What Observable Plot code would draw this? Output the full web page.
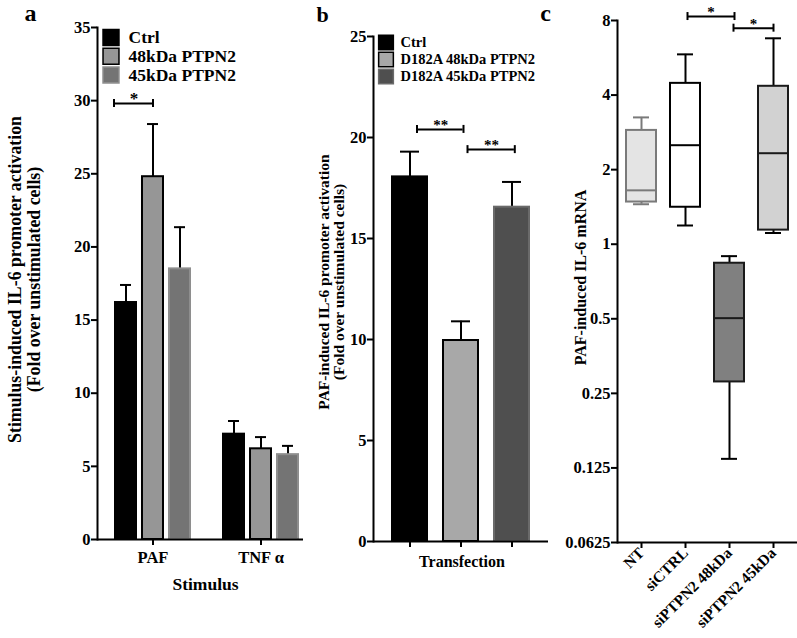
<!DOCTYPE html>
<html>
<head>
<meta charset="utf-8">
<script src="https://cdn.jsdelivr.net/npm/d3@7"></script>
<script src="https://cdn.jsdelivr.net/npm/@observablehq/plot@0.6"></script>
<style>
  html, body { margin: 0; padding: 0; background: #fff; }
  #fig { position: relative; width: 797px; height: 638px; overflow: hidden; background: #fff; }
  .panel { position: absolute; top: 0; height: 638px; }
  .panel svg { max-width: none; overflow: visible; }
</style>
</head>
<body>
<div id="fig"></div>
<script>
// ---------------- Panel a data ----------------
const stimuliA = ["PAF", "TNF α"];
const conditionsA = ["Ctrl", "48kDa PTPN2", "45kDa PTPN2"];
const pafMeansA = [16.2, 24.8, 18.5];
const pafErrA = [1.2, 3.6, 2.85];
const tnfMeansA = [7.2, 6.2, 5.8];
const tnfErrA = [0.9, 0.8, 0.6];
const yTicksA = [0, 5, 10, 15, 20, 25, 30, 35];
const sigA = [{from: "PAF|Ctrl", to: "PAF|48kDa PTPN2", y: 29.8, label: "*"}];

// ---------------- Panel b data ----------------
const conditionsB = ["Ctrl", "D182A 48kDa PTPN2", "D182A 45kDa PTPN2"];
const meansB = [18.05, 9.95, 16.55];
const errB = [1.25, 0.95, 1.25];
const yTicksB = [0, 5, 10, 15, 20, 25];
const sigB = [
  {from: "Ctrl", to: "D182A 48kDa PTPN2", y: 20.4, label: "**"},
  {from: "D182A 48kDa PTPN2", to: "D182A 45kDa PTPN2", y: 19.4, label: "**"}
];

// ---------------- Panel c data ----------------
const groupsC = ["NT", "siCTRL", "siPTPN2 48kDa", "siPTPN2 45kDa"];
const minC = [1.45, 1.19, 0.136, 1.11];
const q1C = [1.48, 1.41, 0.278, 1.14];
const medianC = [1.65, 2.51, 0.503, 2.33];
const q3C = [2.88, 4.46, 0.838, 4.34];
const maxC = [3.25, 5.84, 0.895, 6.78];
const yTicksC = [0.0625, 0.125, 0.25, 0.5, 1, 2, 4, 8];
const sigC = [
  {from: "siCTRL", to: "siPTPN2 48kDa", y: 8.3, label: "*"},
  {from: "siPTPN2 48kDa", to: "siPTPN2 45kDa", y: 7.45, label: "*"}
];

// ---------------- Styles ----------------
const fillA = ["#000000", "#969696", "#747474"];
const strokeA = ["#000000", "#000000", "#8e8e8e"];
const fillB = ["#000000", "#a8a8a8", "#4f4f4f"];
const strokeB = ["#000000", "#000000", "#6a6a6a"];
const fillC = ["#e4e4e4", "#ffffff", "#808080", "#d2d2d2"];
const strokeC = ["#7a7a7a", "#000000", "#1a1a1a", "#1a1a1a"];
const FONT = "'Liberation Serif', 'Times New Roman', serif";
const baseStyle = {fontFamily: FONT, fontWeight: "bold", fontSize: "16px", color: "black", background: "transparent", overflow: "visible"};

// ---------------- Helpers ----------------
function bracket(s, bw, o) {
  return [
    Plot.ruleY([s], {x1: "from", x2: "to", y: "y", strokeWidth: 2, insetLeft: bw / 2 + o.dx1, insetRight: bw / 2 - o.dx2}),
    Plot.ruleX([s], {x: "from", y1: "y", y2: "y", dx: o.dx1, insetTop: -4, insetBottom: -4, strokeWidth: 2}),
    Plot.ruleX([s], {x: "to", y1: "y", y2: "y", dx: o.dx2, insetTop: -4, insetBottom: -4, strokeWidth: 2}),
    Plot.text([s], {x: "from", y: "y", text: "label", dx: o.mid, dy: o.dy, fontSize: o.font})
  ];
}
function legend(items, fills, strokes, o) {
  return items.flatMap((c, i) => [
    Plot.dot([c], {frameAnchor: "top-left", dx: o.sx, dy: o.y0 + i * o.pitch, symbol: "square", r: o.r, fill: fills[i], stroke: strokes[i], strokeWidth: 1.5}),
    Plot.text([c], {frameAnchor: "top-left", dx: o.tx, dy: o.y0 + i * o.pitch, text: d => d, textAnchor: "start", lineAnchor: "middle", fontSize: o.font})
  ]);
}
function label(txt, anchor, dx, dy, o = {}) {
  return Plot.text([txt], {frameAnchor: anchor, dx, dy, text: d => d, textAnchor: "middle", lineAnchor: "middle", ...o});
}
const fig = document.getElementById("fig");
function place(node, left, width) {
  const div = document.createElement("div");
  div.className = "panel";
  div.style.left = left + "px";
  div.style.width = width + "px";
  div.appendChild(node);
  fig.appendChild(div);
}

// ---------------- Panel a ----------------
const keyA = (s, c) => `${s}|${c}`;
const domainA = [...conditionsA.map(c => keyA(stimuliA[0], c)), " ", ...conditionsA.map(c => keyA(stimuliA[1], c))];
const tableA = stimuliA.flatMap((s, si) => conditionsA.map((c, ci) => ({
  key: keyA(s, c), ci,
  mean: (si === 0 ? pafMeansA : tnfMeansA)[ci],
  err: (si === 0 ? pafErrA : tnfErrA)[ci]
})));
const bwA = d3.scaleBand(domainA, [113, 299]).paddingInner(0.24).paddingOuter(0).bandwidth();

const plotA = Plot.plot({
  width: 310, height: 638,
  marginLeft: 97, marginRight: 7, marginTop: 27, marginBottom: 99,
  style: baseStyle,
  x: {domain: domainA, range: [113, 299], paddingInner: 0.24, paddingOuter: 0, axis: null, label: null},
  y: {domain: [0, 35], axis: null, label: null},
  color: {type: "identity"},
  marks: [
    Plot.ruleX(tableA, {x: "key", y1: "mean", y2: d => d.mean + d.err, strokeWidth: 2}),
    Plot.tickY(tableA, {x: "key", y: d => d.mean + d.err, strokeWidth: 2, insetLeft: 5, insetRight: 5}),
    Plot.barY(tableA, {x: "key", y1: 0, y2: "mean", fill: d => fillA[d.ci], stroke: d => strokeA[d.ci], strokeWidth: 2}),
    Plot.axisY({ticks: yTicksA, tickSize: 6, strokeWidth: 2, tickPadding: 1, fontSize: 16.5, label: null}),
    Plot.axisX({ticks: [keyA(stimuliA[0], conditionsA[1]), keyA(stimuliA[1], conditionsA[1])], tickFormat: d => d.split("|")[0], tickSize: 6, strokeWidth: 2, tickPadding: 6, fontSize: 16.5, label: null}),
    Plot.ruleY([0], {strokeWidth: 2}),
    Plot.frame({anchor: "left", strokeWidth: 2}),
    ...legend(conditionsA, fillA, strokeA, {sx: 13.5, tx: 31, y0: 10, pitch: 18.7, r: 9, font: 17.5}),
    ...sigA.flatMap(s => bracket(s, bwA, {dx1: -12, dx2: 0, mid: 8, dy: -5, font: 17})),
    label("Stimulus-induced IL-6 promoter activation\n(Fold over unstimulated cells)", "left", -73, -4, {rotate: -90, fontSize: 17.8, lineHeight: 1.03}),
    label("Stimulus", "bottom", 5, 45, {fontSize: 17.5}),
    label("a", "top-left", -67, -14, {fontSize: 24})
  ]
});
place(plotA, 0, 310);

// ---------------- Panel b ----------------
const tableB = conditionsB.map((c, i) => ({c, i, mean: meansB[i], err: errB[i]}));
const bwB = d3.scaleBand(conditionsB, [373, 548]).paddingInner(0.308).paddingOuter(0.346).bandwidth();
const plotB = Plot.plot({
  width: 250, height: 638,
  marginLeft: 73, marginRight: 2, marginTop: 36, marginBottom: 97,
  style: baseStyle,
  x: {domain: conditionsB, paddingInner: 0.308, paddingOuter: 0.346, axis: null, label: null},
  y: {domain: [0, 25], axis: null, label: null},
  color: {type: "identity"},
  marks: [
    Plot.ruleX(tableB, {x: "c", y1: "mean", y2: d => d.mean + d.err, strokeWidth: 2}),
    Plot.tickY(tableB, {x: "c", y: d => d.mean + d.err, strokeWidth: 2, insetLeft: 8, insetRight: 8}),
    Plot.barY(tableB, {x: "c", y1: 0, y2: "mean", fill: d => fillB[d.i], stroke: d => strokeB[d.i], strokeWidth: 2}),
    Plot.axisY({ticks: yTicksB, tickSize: 6, strokeWidth: 2, tickPadding: 1, fontSize: 16.5, label: null}),
    Plot.axisX({tickFormat: () => "", tickSize: 6, strokeWidth: 2, label: null}),
    Plot.ruleY([0], {strokeWidth: 2}),
    Plot.frame({anchor: "left", strokeWidth: 2}),
    ...legend(conditionsB, fillB, strokeB, {sx: 12.5, tx: 27, y0: 6, pitch: 17, r: 8.3, font: 14.5}),
    ...bracket(sigB[0], bwB, {dx1: 7, dx2: 2.5, mid: 30.7, dy: -4, font: 15}),
    ...bracket(sigB[1], bwB, {dx1: 6.5, dx2: 2.8, mid: 30.5, dy: -4, font: 15}),
    label("PAF-induced IL-6 promoter activation\n(Fold over unstimulated cells)", "left", -42, -7, {rotate: -90, fontSize: 15.5, lineHeight: 1.0}),
    label("Transfection", "bottom", 1, 20, {fontSize: 16}),
    label("b", "top-left", -51, -22, {fontSize: 22})
  ]
});
place(plotB, 300, 250);

// ---------------- Panel c ----------------
const tableC = groupsC.map((g, i) => ({g, i, min: minC[i], q1: q1C[i], med: medianC[i], q3: q3C[i], max: maxC[i]}));
const bwC = d3.scaleBand(groupsC, [617, 797]).paddingInner(0.318).paddingOuter(0.204).bandwidth();
const whisker = d => d.i === 0 ? strokeC[0] : "#000";
const plotC = Plot.plot({
  width: 257, height: 638,
  marginLeft: 77, marginRight: 0, marginTop: 20, marginBottom: 96,
  style: baseStyle,
  x: {domain: groupsC, paddingInner: 0.318, paddingOuter: 0.204, axis: null, label: null},
  y: {type: "log", base: 2, domain: [0.0625, 8], axis: null, label: null},
  color: {type: "identity"},
  marks: [
    Plot.ruleX(tableC, {x: "g", y1: "q3", y2: "max", stroke: whisker, strokeWidth: 2}),
    Plot.ruleX(tableC, {x: "g", y1: "min", y2: "q1", stroke: whisker, strokeWidth: 2}),
    Plot.tickY(tableC, {x: "g", y: "max", stroke: whisker, strokeWidth: 2, insetLeft: 7, insetRight: 7}),
    Plot.tickY(tableC, {x: "g", y: "min", stroke: whisker, strokeWidth: 2, insetLeft: 7, insetRight: 7}),
    Plot.barY(tableC, {x: "g", y1: "q1", y2: "q3", fill: d => fillC[d.i], stroke: d => strokeC[d.i], strokeWidth: 2}),
    Plot.tickY(tableC, {x: "g", y: "med", stroke: d => strokeC[d.i], strokeWidth: 2}),
    Plot.axisY({ticks: yTicksC, tickFormat: d => String(d), tickSize: 6, strokeWidth: 2, tickPadding: 1, fontSize: 16.5, label: null}),
    Plot.axisX({tickRotate: -45, tickSize: 6, strokeWidth: 2, tickPadding: 2, fontSize: 15.5, label: null}),
    Plot.ruleY([0.0625], {strokeWidth: 2}),
    Plot.frame({anchor: "left", strokeWidth: 2}),
    ...bracket(sigC[0], bwC, {dx1: 2, dx2: 5, mid: 25.5, dy: -4, font: 15}),
    ...bracket(sigC[1], bwC, {dx1: 4, dx2: 0, mid: 24, dy: -4, font: 15}),
    label("PAF-induced IL-6 mRNA", "left", -37, -4, {rotate: -90, fontSize: 16}),
    label("c", "top-left", -72, -7, {fontSize: 24})
  ]
});
place(plotC, 540, 257);
</script>
</body>
</html>
